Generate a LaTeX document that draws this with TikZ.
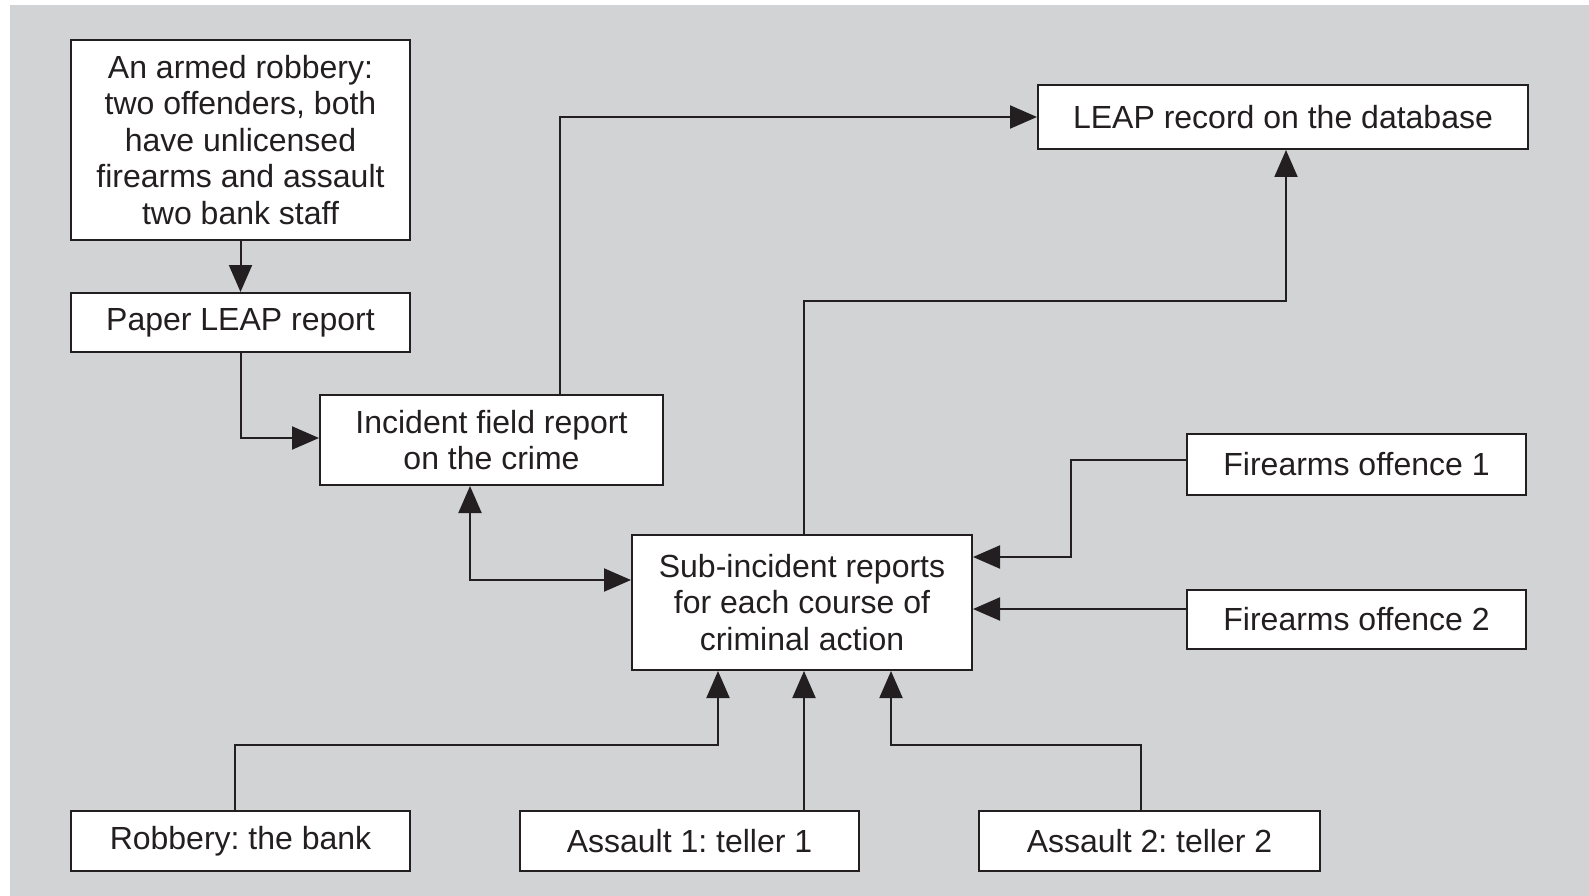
\documentclass[tikz,border=0pt]{standalone}
\usepackage{fontspec}
\setmainfont{Liberation Sans}
\usepackage{tikz}
\usetikzlibrary{positioning,arrows.meta}
\frenchspacing
\definecolor{panelgrey}{HTML}{D1D3D4}
\definecolor{inkdark}{HTML}{231F20}
\tikzset{
  box/.style={rectangle, draw=inkdark, fill=white, line width=2pt, inner sep=0pt, align=center,
              text=inkdark, font=\fontsize{32}{36.5}\selectfont},
  fwd/.style={-{Triangle[length=27pt,width=23pt]}, line width=2pt, draw=inkdark},
  both/.style={{Triangle[length=27pt,width=23pt]}-{Triangle[length=27pt,width=23pt]}, line width=2pt, draw=inkdark},
}

\begin{document}
\begin{tikzpicture}[x=1pt, y=-1pt]
  \useasboundingbox (0,0) rectangle (1589,896);
  \fill[panelgrey] (10,5) rectangle (1589,896);

  \node[box, minimum width=339pt, minimum height=200pt] (robbery) at (240.5,140)
    {An armed robbery:\\two offenders, both\\have unlicensed\\firearms and assault\\two bank staff};
  \node[box, minimum width=339pt, minimum height=59pt] (paper) [below=51pt of robbery] {Paper LEAP report};
  \node[box, minimum width=343pt, minimum height=90pt] (field) at (491.5,440) {Incident field report\\on the crime};
  \node[box, minimum width=490pt, minimum height=64pt] (leap) at (1283,117) {LEAP record on the database};
  \node[box, minimum width=340pt, minimum height=135pt] (sub) at (802,602.5)
    {Sub-incident reports\\for each course of\\criminal action};
  \node[box, minimum width=339pt, minimum height=61pt] (fire1) at (1356.5,464.5) {Firearms offence 1};
  \node[box, minimum width=339pt, minimum height=59pt] (fire2) at (1356.5,619.5) {Firearms offence 2};
  \node[box, minimum width=339pt, minimum height=60pt] (bank) at (240.5,841) {Robbery: the bank};
  \node[box, minimum width=339pt, minimum height=60pt] (teller1) at (689.5,841) {Assault 1: teller 1};
  \node[box, minimum width=341pt, minimum height=60pt] (teller2) at (1149.5,841) {Assault 2: teller 2};

  \coordinate (upturn) at (804,301);
  \coordinate (firejoin) at (1071,460);
  \coordinate (fire2out) at (1187,609);
  \coordinate (bankjoin) at (718,745);
  \coordinate (tellerjoin) at (891,745);

  \draw[fwd] (robbery) -- (paper);
  \draw[fwd] (paper.south) |- ([yshift=2pt]field.west);
  \draw[fwd] ([xshift=68.5pt]field.north) |- (leap.west);
  \draw[both] ([xshift=-21.5pt]field.south) |- ([yshift=22.5pt]sub.west);
  \draw[fwd] (sub.north -| upturn) -- (upturn) -| ([xshift=3pt]leap.south);
  \draw[fwd] (fire1.west |- firejoin) -- (firejoin) |- ([yshift=45.5pt]sub.east);
  \draw[fwd] (fire2out) -- (sub.east |- fire2out);
  \draw[fwd] ([xshift=-5.5pt]bank.north) |- (bankjoin) -- (bankjoin |- sub.south);
  \draw[fwd] (teller1.north -| upturn) -- (sub.south -| upturn);
  \draw[fwd] ([xshift=-8.5pt]teller2.north) |- (tellerjoin) -- (tellerjoin |- sub.south);

\end{tikzpicture}
\end{document}
